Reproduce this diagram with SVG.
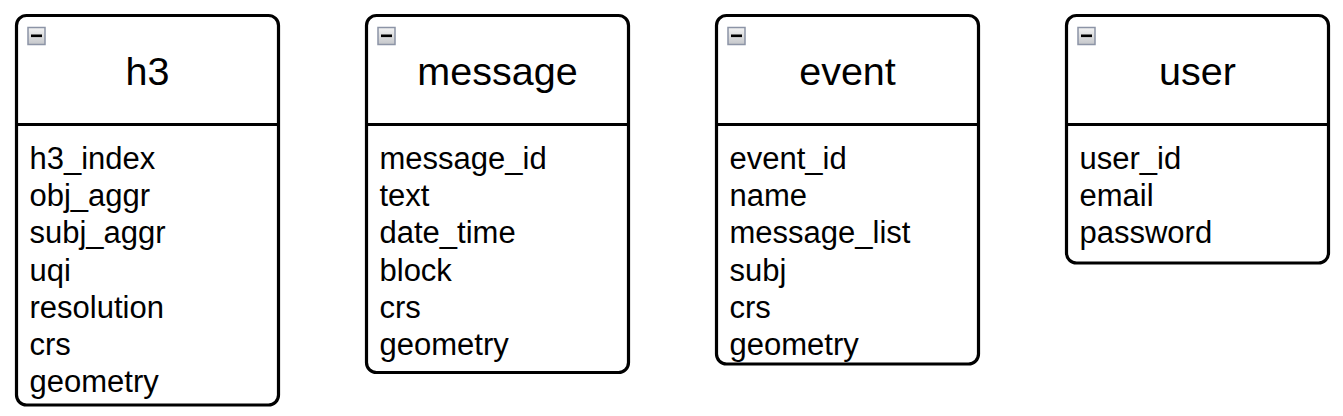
<svg xmlns="http://www.w3.org/2000/svg" width="1343" height="416" viewBox="0 0 1343 416">
<defs>
<linearGradient id="ig" x1="0" y1="0" x2="0" y2="1">
<stop offset="0" stop-color="#f4f4f4"/>
<stop offset="1" stop-color="#c4c6ca"/>
</linearGradient>
<g id="icon">
<rect x="0.5" y="0.5" width="17" height="17" fill="url(#ig)" stroke="#8c94a6" stroke-width="1.5"/>
<rect x="3.5" y="7.5" width="11" height="2.6" fill="#000"/>
</g>
</defs>
<style>
.box{fill:#fff;stroke:#000;stroke-width:3.2}
.div{stroke:#000;stroke-width:3.2}
.title{font-family:"Liberation Sans",Arial,sans-serif;font-size:39.5px;text-anchor:middle;fill:#000}
.attr{font-family:"Liberation Sans",Arial,sans-serif;font-size:31px;fill:#000}
</style>
<rect width="1343" height="416" fill="#fff"/>
<g id="connectors"/>
<g id="node-h3">
<rect class="box" x="16.5" y="15.5" width="262" height="389.5" rx="10"/>
<line class="div" x1="16.5" y1="124.5" x2="278.5" y2="124.5"/>
<use href="#icon" x="27.5" y="27"/>
<text class="title" x="147.5" y="84.5">h3</text>
<text class="attr" x="29.5" y="169">h3_index</text>
<text class="attr" x="29.5" y="206.2">obj_aggr</text>
<text class="attr" x="29.5" y="243.4">subj_aggr</text>
<text class="attr" x="29.5" y="280.6">uqi</text>
<text class="attr" x="29.5" y="317.8">resolution</text>
<text class="attr" x="29.5" y="355">crs</text>
<text class="attr" x="29.5" y="392.2">geometry</text>
</g>
<g id="node-message">
<rect class="box" x="366.5" y="15.5" width="262" height="357" rx="10"/>
<line class="div" x1="366.5" y1="124.5" x2="628.5" y2="124.5"/>
<use href="#icon" x="377.5" y="27"/>
<text class="title" x="497.5" y="84.5">message</text>
<text class="attr" x="379.5" y="169">message_id</text>
<text class="attr" x="379.5" y="206.2">text</text>
<text class="attr" x="379.5" y="243.4">date_time</text>
<text class="attr" x="379.5" y="280.6">block</text>
<text class="attr" x="379.5" y="317.8">crs</text>
<text class="attr" x="379.5" y="355">geometry</text>
</g>
<g id="node-event">
<rect class="box" x="716.5" y="15.5" width="262" height="348.5" rx="10"/>
<line class="div" x1="716.5" y1="124.5" x2="978.5" y2="124.5"/>
<use href="#icon" x="727.5" y="27"/>
<text class="title" x="847.5" y="84.5">event</text>
<text class="attr" x="729.5" y="169">event_id</text>
<text class="attr" x="729.5" y="206.2">name</text>
<text class="attr" x="729.5" y="243.4">message_list</text>
<text class="attr" x="729.5" y="280.6">subj</text>
<text class="attr" x="729.5" y="317.8">crs</text>
<text class="attr" x="729.5" y="355">geometry</text>
</g>
<g id="node-user">
<rect class="box" x="1066.5" y="15.5" width="262" height="247.5" rx="10"/>
<line class="div" x1="1066.5" y1="124.5" x2="1328.5" y2="124.5"/>
<use href="#icon" x="1077.5" y="27"/>
<text class="title" x="1197.5" y="84.5">user</text>
<text class="attr" x="1079.5" y="169">user_id</text>
<text class="attr" x="1079.5" y="206.2">email</text>
<text class="attr" x="1079.5" y="243.4">password</text>
</g>
</svg>
